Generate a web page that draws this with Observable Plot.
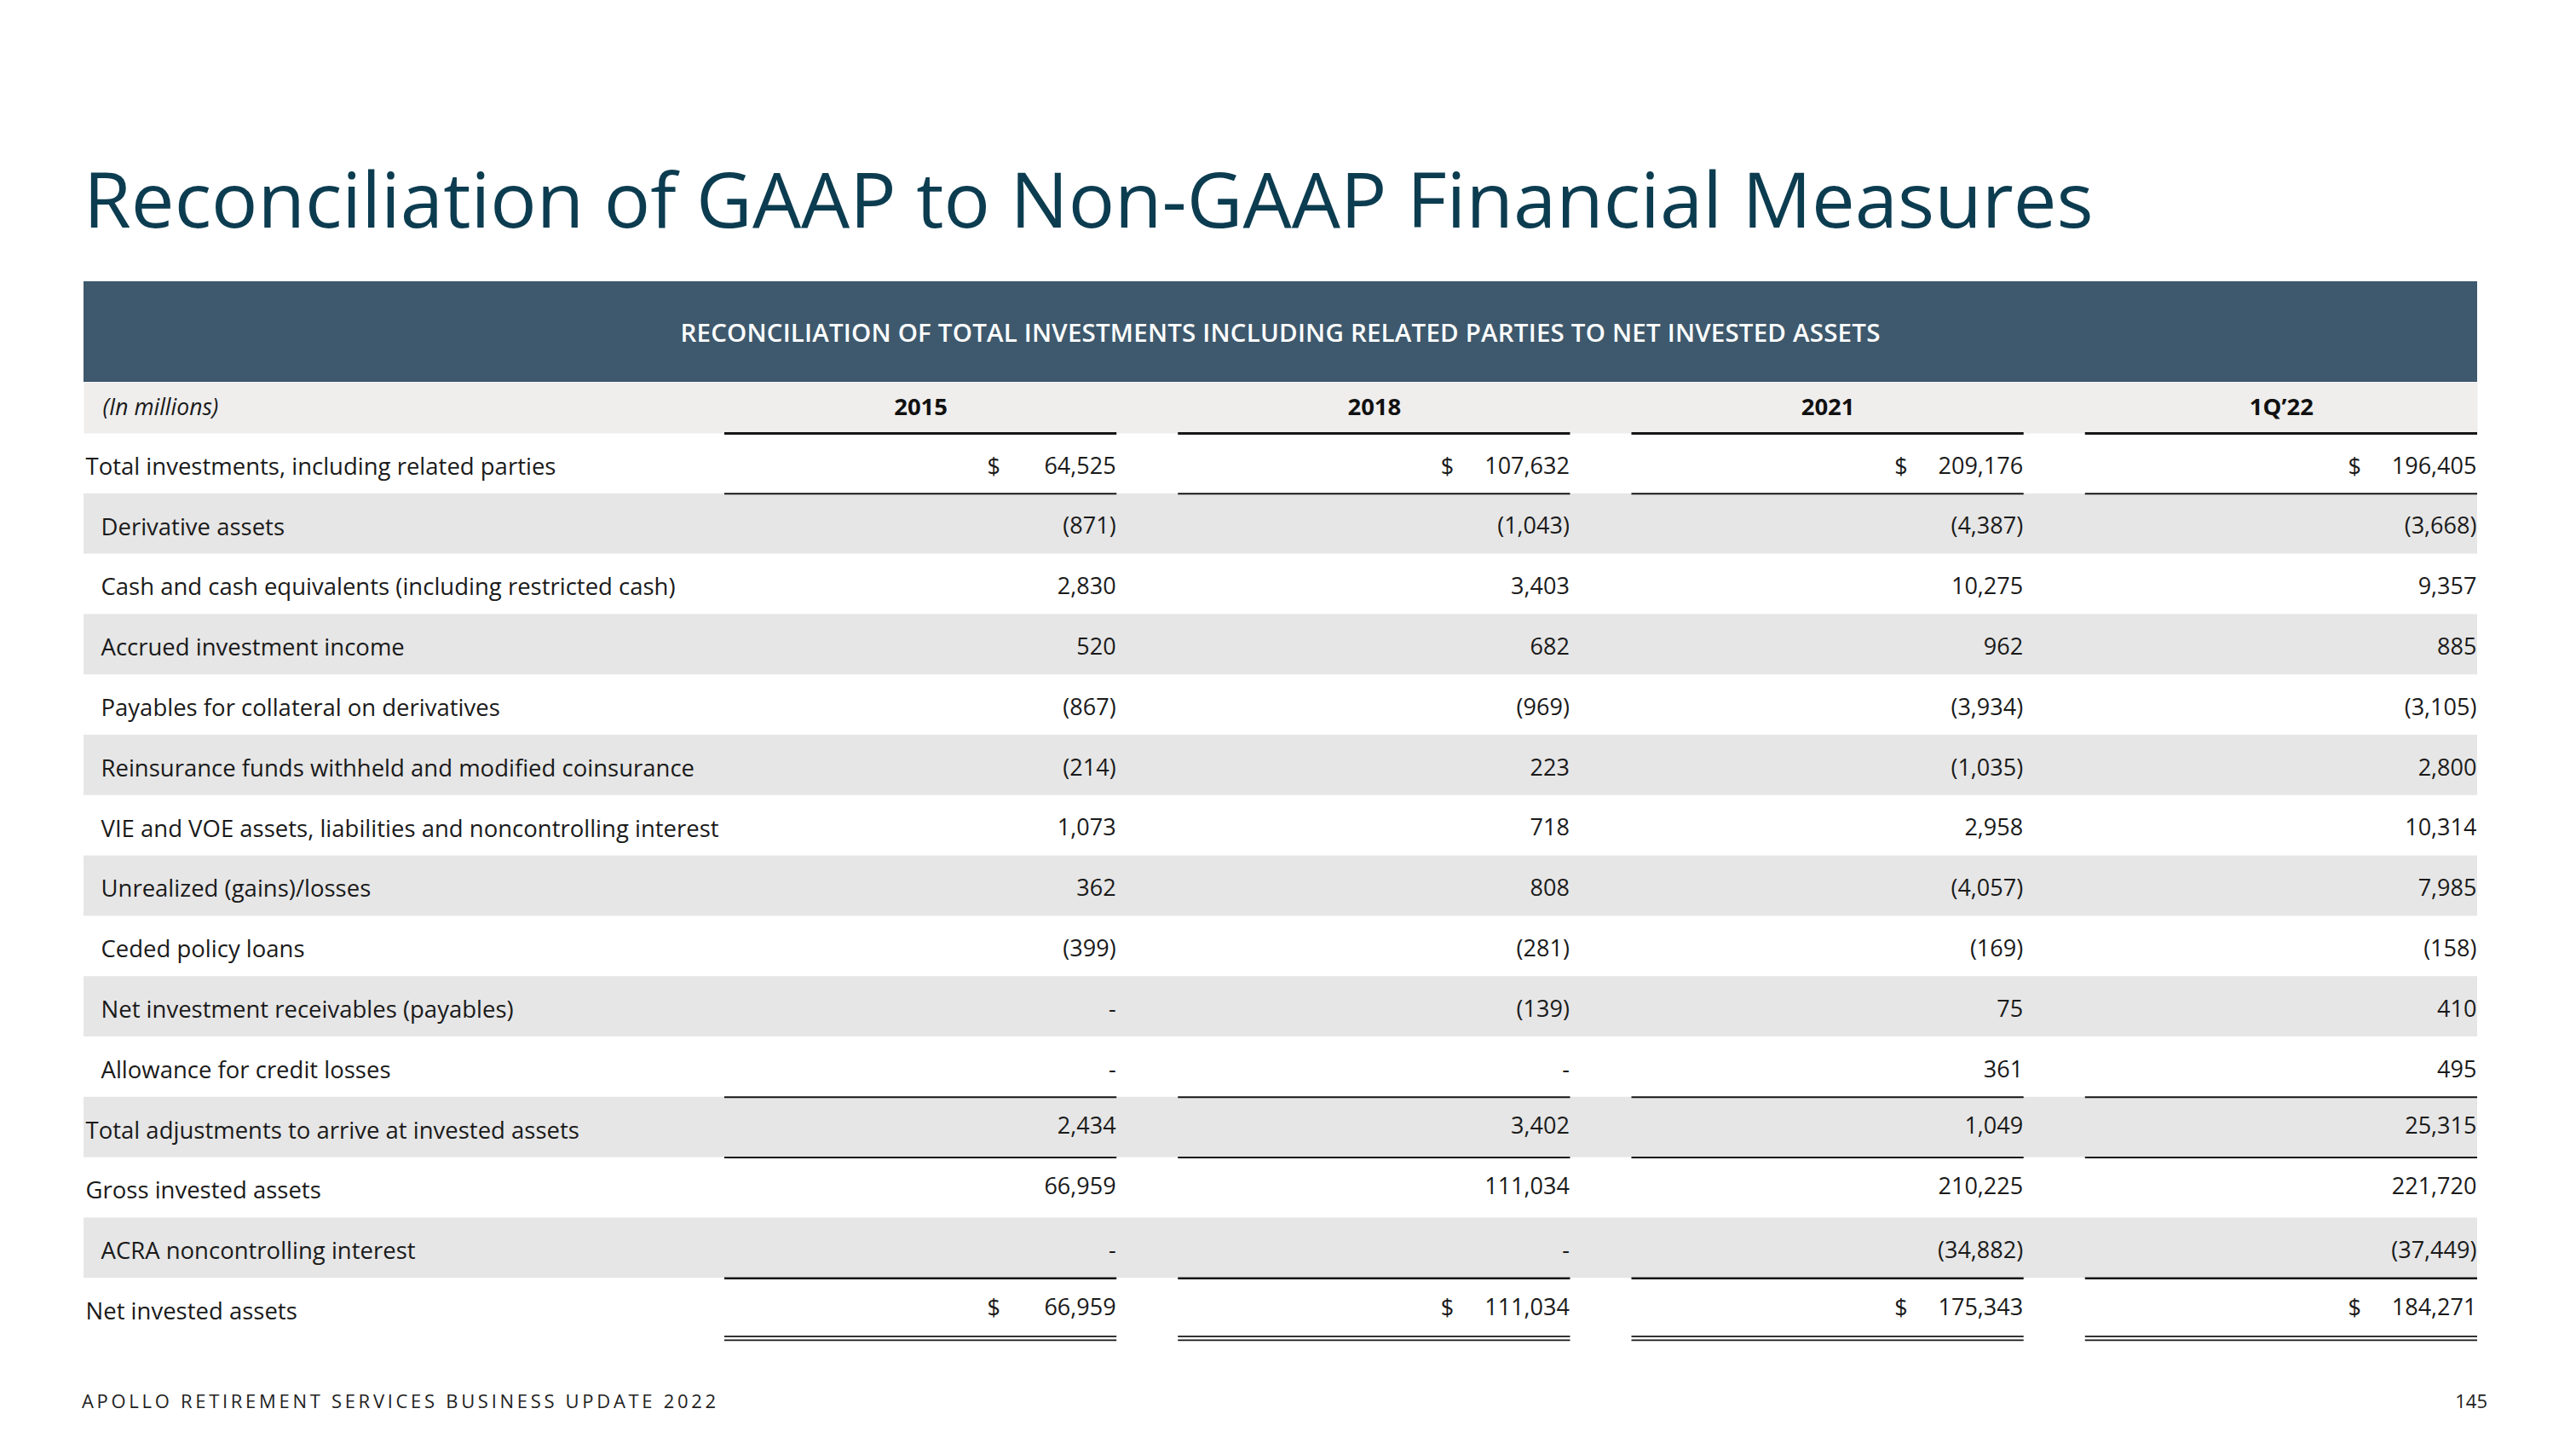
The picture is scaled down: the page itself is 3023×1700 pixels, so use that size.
<!DOCTYPE html>
<html>
<head>
<meta charset="utf-8">
<script src="https://cdn.jsdelivr.net/npm/d3@7"></script>
<script src="https://cdn.jsdelivr.net/npm/@observablehq/plot@0.6"></script>
<style>
  html, body { margin: 0; padding: 0; background: #ffffff; }
  body { width: 3023px; height: 1700px; position: relative; overflow: hidden; font-family: "Open Sans", "Noto Sans", sans-serif; }
  #titleBlock { height: 330px; position: relative; }
  #titleBlock h1 { position: absolute; left: 98px; top: 187px; margin: 0; font-size: 90.5px; line-height: 90.5px; font-weight: 400; color: #0c3c50; white-space: nowrap; }
  #banner { margin-left: 98px; width: 2809px; height: 118px; background: #3e596d; color: #ffffff; display: flex; align-items: center; justify-content: center; font-size: 29.5px; font-weight: 600; letter-spacing: 0.2px; }
  .plotwrap svg { display: block; }
  #footer { position: absolute; left: 96px; top: 1632px; font-size: 22px; line-height: 22px; letter-spacing: 3.7px; color: #222222; white-space: nowrap; }
  #page { position: absolute; right: 104px; top: 1632px; font-size: 22px; line-height: 22px; color: #222222; }
</style>
</head>
<body>
<div id="titleBlock"><h1 id="title"></h1></div>
<div id="banner"></div>
<div class="plotwrap" id="headerRow"></div>
<div class="plotwrap" id="table"></div>
<div id="footer"></div>
<div id="page"></div>
<script>
// ---------- data ----------
const titleText = "Reconciliation of GAAP to Non-GAAP Financial Measures";
const bannerText = "RECONCILIATION OF TOTAL INVESTMENTS INCLUDING RELATED PARTIES TO NET INVESTED ASSETS";
const unitsLabel = "(In millions)";
const footerText = "APOLLO RETIREMENT SERVICES BUSINESS UPDATE 2022";
const pageNumber = "145";

const years = ["2015", "2018", "2021", "1Q\u201922"];

const rowLabels = [
  "Total investments, including related parties",
  "Derivative assets",
  "Cash and cash equivalents (including restricted cash)",
  "Accrued investment income",
  "Payables for collateral on derivatives",
  "Reinsurance funds withheld and modified coinsurance",
  "VIE and VOE assets, liabilities and noncontrolling interest",
  "Unrealized (gains)/losses",
  "Ceded policy loans",
  "Net investment receivables (payables)",
  "Allowance for credit losses",
  "Total adjustments to arrive at invested assets",
  "Gross invested assets",
  "ACRA noncontrolling interest",
  "Net invested assets"
];

const totalRows = [
  "Total investments, including related parties",
  "Total adjustments to arrive at invested assets",
  "Gross invested assets",
  "Net invested assets"
];
const dollarRows = ["Total investments, including related parties", "Net invested assets"];

const v2015 = [64525, -871, 2830, 520, -867, -214, 1073, 362, -399, null, null, 2434, 66959, null, 66959];
const v2018 = [107632, -1043, 3403, 682, -969, 223, 718, 808, -281, -139, null, 3402, 111034, null, 111034];
const v2021 = [209176, -4387, 10275, 962, -3934, -1035, 2958, -4057, -169, 75, 361, 1049, 210225, -34882, 175343];
const v1Q22 = [196405, -3668, 9357, 885, -3105, 2800, 10314, 7985, -158, 410, 495, 25315, 221720, -37449, 184271];

// ---------- build ----------
const seriesByYear = [v2015, v2018, v2021, v1Q22];
const cells = [];
rowLabels.forEach((row, i) => {
  years.forEach((year, j) => {
    cells.push({row, year, value: seriesByYear[j][i], i});
  });
});

const fmtNum = d3.format(",");
const fmt = v => v == null ? "-" : v < 0 ? `(${fmtNum(-v)})` : fmtNum(v);

document.getElementById("title").textContent = titleText;
document.getElementById("banner").textContent = bannerText;
document.getElementById("footer").textContent = footerText;
document.getElementById("page").textContent = pageNumber;

const W = 3023, ML = 98, MR = 116;
const colGap = 72, colW = 460;
const xOpts = {type: "band", domain: years, range: [850, W - MR], paddingInner: colGap / (colW + colGap), paddingOuter: 0, round: false, axis: null};
const bw = colW;
const baseStyle = {fontFamily: "'Open Sans', 'Noto Sans', sans-serif", color: "#1a1a1a", background: "transparent", overflow: "visible"};

// header row
const headerPlot = Plot.plot({
  width: W, height: 60, marginTop: 0, marginBottom: 0, marginLeft: ML, marginRight: MR,
  x: xOpts,
  style: {...baseStyle, fontSize: "27px"},
  marks: [
    Plot.frame({fill: "#efeeed", stroke: "none"}),
    Plot.text([unitsLabel], {frameAnchor: "left", dx: 22, fontStyle: "italic", fontSize: 26.5, textAnchor: "start", fill: "#1a1a1a"}),
    Plot.text(years, {x: d => d, frameAnchor: "middle", fontWeight: "bold", fontSize: 27.5, fill: "#111"})
  ]
});
document.getElementById("headerRow").append(headerPlot);

// table body
const nRows = rowLabels.length;
const tableH = 1062;
const rowH = tableH / nRows;
const isTotal = r => totalRows.includes(r);
const raised = new Set([rowLabels[11], rowLabels[12], rowLabels[14]]);

const lineSpecs = [];
years.forEach(year => lineSpecs.push({row: rowLabels[0], year, pos: "top", w: 3}));
years.forEach(year => lineSpecs.push({row: rowLabels[0], year, pos: "bottom", w: 2}));
years.forEach(year => lineSpecs.push({row: rowLabels[11], year, pos: "top", w: 2}));
years.forEach(year => lineSpecs.push({row: rowLabels[11], year, pos: "bottom", w: 2}));
years.forEach(year => lineSpecs.push({row: rowLabels[14], year, pos: "top", w: 2.5}));
years.forEach(year => lineSpecs.push({row: rowLabels[14], year, pos: "dbl1", w: 1.8}));
years.forEach(year => lineSpecs.push({row: rowLabels[14], year, pos: "dbl2", w: 1.8}));

const lineDy = {top: -rowH / 2, bottom: rowH / 2, dbl1: rowH / 2 - 2.6, dbl2: rowH / 2 + 1.8};
const numDy = r => raised.has(r) ? -1 : 3;

const tablePlot = Plot.plot({
  width: W, height: tableH + 18, marginTop: 0, marginBottom: 18, marginLeft: ML, marginRight: MR,
  x: xOpts,
  y: {type: "band", domain: rowLabels, padding: 0, round: false, axis: null},
  style: {...baseStyle, fontSize: "27px"},
  marks: [
    Plot.cell(rowLabels.filter((d, i) => i % 2 === 1), {y: d => d, fill: "#e6e6e6"}),
    // row labels
    Plot.text(rowLabels.filter(isTotal), {y: d => d, frameAnchor: "left", textAnchor: "start", dx: 2, dy: 4, fontSize: 27.5, fill: "#1a1a1a"}),
    Plot.text(rowLabels.filter(r => !isTotal(r)), {y: d => d, frameAnchor: "left", textAnchor: "start", dx: 20, dy: 4, fontSize: 27.5, fill: "#1a1a1a"}),
    // values
    Plot.text(cells.filter(d => !raised.has(d.row)), {x: "year", y: "row", text: d => fmt(d.value), textAnchor: "end", dx: bw / 2 - 1, dy: 3, fontSize: 27, fill: "#1a1a1a"}),
    Plot.text(cells.filter(d => raised.has(d.row)), {x: "year", y: "row", text: d => fmt(d.value), textAnchor: "end", dx: bw / 2 - 1, dy: -1, fontSize: 27, fill: "#1a1a1a"}),
    // dollar signs
    Plot.text(cells.filter(d => d.row === dollarRows[0]), {x: "year", y: "row", text: () => "$", textAnchor: "start", dx: 78, dy: numDy(dollarRows[0]) + 1, fontSize: 27, fill: "#1a1a1a"}),
    Plot.text(cells.filter(d => d.row === dollarRows[1]), {x: "year", y: "row", text: () => "$", textAnchor: "start", dx: 78, dy: numDy(dollarRows[1]) + 1, fontSize: 27, fill: "#1a1a1a"}),
    // rules
    ...Object.keys(lineDy).map(pos =>
      Plot.tickY(lineSpecs.filter(d => d.pos === pos), {x: "year", y: "row", dy: lineDy[pos], stroke: "#161616", strokeWidth: d => d.w})
    )
  ]
});
document.getElementById("table").append(tablePlot);
</script>
</body>
</html>
